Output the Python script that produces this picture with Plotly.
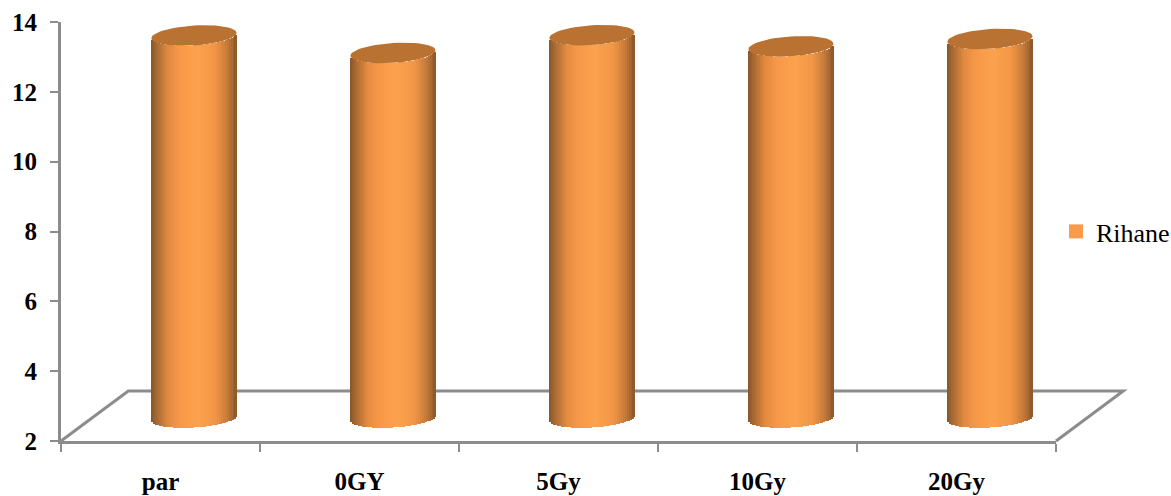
import math
import plotly.graph_objects as go

categories = ["par", "0GY", "5Gy", "10Gy", "20Gy"]
values = [12.94, 12.44, 12.95, 12.63, 12.84]
series_name = "Rihane"
y_ticks = [2, 4, 6, 8, 10, 12, 14]

# Pseudo-3D look of the chart
DEPTH_X = 0.168      # shift of the bars towards the back wall, category units
DEPTH_Y = 0.673      # same, value units
RADIUS = 0.214       # half width, category units
CAP_B = 0.285        # ellipse half height, value units
CAP_TILT = 0.077     # ellipse tilt, value units
FLOOR_X = 0.338      # floor depth
FLOOR_Y = 1.43
Y_MIN, Y_MAX = 2, 14
GREY = "#8c8c8c"
N = 43

stops = [(0.0, (134, 86, 44)), (0.07, (170, 106, 50)), (0.2, (226, 138, 64)), (0.33, (247, 152, 72)),
         (0.55, (252, 162, 78)), (0.75, (240, 150, 70)), (0.88, (200, 124, 58)), (0.96, (160, 100, 48)),
         (1.0, (136, 88, 44))]


def shade(t):
    for (a, ca), (b, cb) in zip(stops, stops[1:]):
        if t <= b:
            k = (t - a) / (b - a)
            return "rgb(%d,%d,%d)" % tuple(round(p + (q - p) * k) for p, q in zip(ca, cb))
    return "rgb(136,88,44)"


idx = list(range(len(categories)))
fig = go.Figure()

# Cylinder bodies: one bar trace per vertical slice
step = 2 * RADIUS / N
for s in range(N):
    u = -1 + (s + 0.5) * 2 / N
    front = CAP_TILT * u - CAP_B * math.sqrt(max(0, 1 - u * u))
    bases = [Y_MIN + DEPTH_Y + front for _ in values]
    heights = [v - Y_MIN for v in values]
    width = step * (1.0 if s == N - 1 else 1.6)
    fig.add_trace(go.Bar(
        x=[i + DEPTH_X for i in idx], y=heights, base=bases,
        offset=-RADIUS + s * step, width=width,
        marker=dict(color=shade((s + 0.5) / N), line=dict(width=0)),
        showlegend=False, hoverinfo="skip"))

# Cylinder caps
cap_x, cap_y = [], []
for i, v in zip(idx, values):
    for k in range(61):
        t = 2 * math.pi * k / 60
        cap_x.append(i + DEPTH_X + RADIUS * math.cos(t))
        cap_y.append(v + DEPTH_Y + CAP_TILT * math.cos(t) + CAP_B * math.sin(t))
    cap_x.append(None)
    cap_y.append(None)
fig.add_trace(go.Scatter(x=cap_x, y=cap_y, mode="lines", fill="toself", fillcolor="#b97232",
                         line=dict(width=0, color="#b97232"), showlegend=False, hoverinfo="skip"))

# Legend entry
fig.add_trace(go.Scatter(x=[None], y=[None], mode="markers", name=series_name,
                         marker=dict(symbol="square", size=14, color="#f99b4c")))

# Floor outline, behind the cylinders
n = len(categories)


def px(x):
    return (x + 0.5) / n


def py(y):
    return (y - Y_MIN) / (Y_MAX - Y_MIN)


floor = [(-0.5, Y_MIN), (-0.5 + FLOOR_X, Y_MIN + FLOOR_Y), (n - 0.5 + FLOOR_X, Y_MIN + FLOOR_Y), (n - 0.5, Y_MIN)]
path = "M" + " L".join("%.5f,%.5f" % (px(a), py(b)) for a, b in floor)
fig.add_shape(type="path", path=path, xref="paper", yref="paper", layer="below",
              line=dict(color=GREY, width=3))

serif = "Liberation Serif"
fig.update_layout(
    width=1171, height=496, autosize=False,
    margin=dict(l=61, r=115, t=22, b=55, autoexpand=False),
    paper_bgcolor="white", plot_bgcolor="white", barmode="overlay", bargap=0,
    showlegend=True,
    legend=dict(x=1.0, y=0.5, xanchor="left", yanchor="middle", bgcolor="rgba(0,0,0,0)",
                font=dict(family=serif, size=26, color="black"), itemsizing="trace"),
    xaxis=dict(range=[-0.5, n - 0.5], tickmode="array", tickvals=idx, ticktext=categories,
               ticks="", showgrid=False, zeroline=False, showline=True, linecolor=GREY, linewidth=3,
               tickfont=dict(family=serif, size=25, color="black", weight=700),
               ticklabelstandoff=16,
               minor=dict(tickmode="array", tickvals=[i - 0.5 for i in range(n + 1)], ticks="outside",
                          ticklen=8, tickwidth=2, tickcolor=GREY, showgrid=False)),
    yaxis=dict(range=[Y_MIN, Y_MAX], tickmode="array", tickvals=y_ticks, ticks="outside", ticklen=8,
               tickwidth=2, tickcolor=GREY, showgrid=False, zeroline=False, showline=True,
               linecolor=GREY, linewidth=3,
               tickfont=dict(family=serif, size=25, color="black", weight=700),
               ticklabelstandoff=8),
)
fig.write_html("out.html", config={"displayModeBar": False},
               post_script="document.body.style.margin='0';")
